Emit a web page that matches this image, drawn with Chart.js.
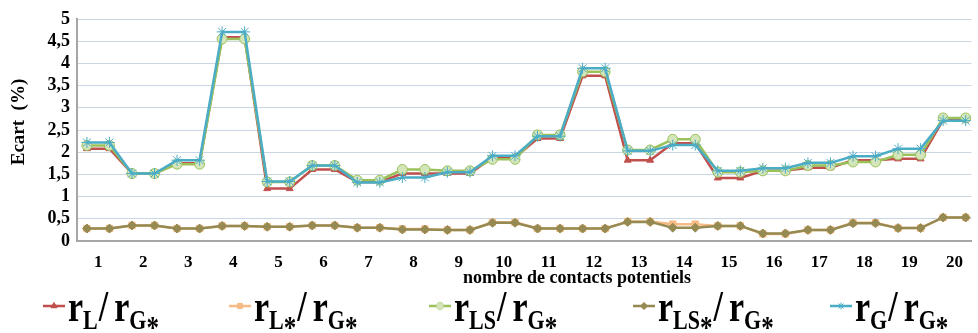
<!doctype html>
<html>
<head>
<meta charset="utf-8">
<style>
  body { margin:0; background:#fff; }
  canvas { display:block; }
</style>
</head>
<body>
<canvas id="c" width="978" height="333"></canvas>
<script src="https://cdn.jsdelivr.net/npm/chart.js"></script>
<script>
// categories (number of potential contacts); each one has two points
const CATS = [1,2,3,4,5,6,7,8,9,10,11,12,13,14,15,16,17,18,19,20];
const Y_TICKS = [0,0.5,1,1.5,2,2.5,3,3.5,4,4.5,5];

const R_L = [2.08,2.08, 1.52,1.52, 1.75,1.75, 4.59,4.59, 1.18,1.18, 1.61,1.61, 1.33,1.33, 1.52,1.52, 1.52,1.52, 1.88,1.88,
             2.31,2.31, 3.72,3.72, 1.82,1.82, 2.20,2.20, 1.42,1.42, 1.58,1.58, 1.65,1.65, 1.82,1.82, 1.85,1.85, 2.73,2.73];
const R_LSTAR = [0.28,0.28, 0.35,0.35, 0.28,0.28, 0.34,0.34, 0.32,0.32, 0.35,0.35, 0.30,0.30, 0.27,0.27, 0.25,0.25, 0.42,0.42,
                 0.28,0.28, 0.28,0.28, 0.44,0.44, 0.38,0.38, 0.34,0.34, 0.16,0.16, 0.25,0.25, 0.41,0.41, 0.29,0.29, 0.53,0.53];
const R_LS = [2.15,2.15, 1.52,1.52, 1.73,1.73, 4.55,4.55, 1.33,1.33, 1.70,1.70, 1.37,1.37, 1.61,1.61, 1.58,1.58, 1.84,1.84,
              2.39,2.39, 3.81,3.81, 2.05,2.05, 2.29,2.29, 1.55,1.55, 1.58,1.58, 1.70,1.70, 1.78,1.78, 1.94,1.94, 2.77,2.77];
const R_LSSTAR = [0.28,0.28, 0.35,0.35, 0.28,0.28, 0.34,0.34, 0.32,0.32, 0.35,0.35, 0.30,0.30, 0.26,0.26, 0.25,0.25, 0.41,0.41,
                  0.28,0.28, 0.28,0.28, 0.43,0.43, 0.30,0.30, 0.34,0.34, 0.17,0.17, 0.25,0.25, 0.40,0.40, 0.29,0.29, 0.53,0.53];
const R_G = [2.22,2.22, 1.52,1.52, 1.82,1.82, 4.71,4.71, 1.34,1.34, 1.70,1.70, 1.32,1.32, 1.43,1.43, 1.55,1.55, 1.92,1.92,
             2.36,2.36, 3.89,3.89, 2.03,2.03, 2.16,2.16, 1.58,1.58, 1.64,1.64, 1.76,1.76, 1.91,1.91, 2.08,2.08, 2.71,2.71];

const SERIF = "'Liberation Serif', 'Times New Roman', serif";

// two points per category: slightly left and right of the category tick
function pts(values) {
  return values.map((v, i) => ({ x: CATS[Math.floor(i / 2)] + (i % 2 ? 0.25 : -0.25), y: v }));
}

const SERIES = [
  { key: ["L", "G"],   star: [false, true], data: R_L,      color: "#C0504D", fill: "#C0504D", style: "triangle", r: 4,   order: 3 },
  { key: ["L", "G"],   star: [true, true],  data: R_LSTAR,  color: "#F6BA84", fill: "#F6BA84", style: "rect",     r: 4.5, order: 4 },
  { key: ["LS", "G"],  star: [false, true], data: R_LS,     color: "#9BC25A", fill: "#D5E5BA", style: "circle",   r: 5,   order: 2 },
  { key: ["LS", "G"],  star: [true, true],  data: R_LSSTAR, color: "#958A52", fill: "#958A52", style: "rectRot",  r: 4.5, order: 1 },
  { key: ["G", "G"],   star: [false, true], data: R_G,      color: "#4BACC6", fill: "#4BACC6", style: "star",     r: 5.5, order: 0 },
];

const titlesAndLegend = {
  id: "titlesAndLegend",
  afterDraw(chart) {
    const ctx = chart.ctx;
    ctx.save();
    ctx.fillStyle = "#000";
    // x title
    ctx.font = "bold 18px " + SERIF;
    ctx.textAlign = "center";
    ctx.textBaseline = "alphabetic";
    ctx.fillText("nombre de contacts potentiels", 577, 283);
    // y title
    ctx.translate(24, 122);
    ctx.rotate(-Math.PI / 2);
    ctx.font = "bold 19px " + SERIF;
    ctx.fillText("Ecart  (%)", 0, 0);
    ctx.restore();

    // legend
    const starts = [43, 229, 429, 633, 830];
    const big = "bold 34px " + SERIF, small = "bold 22px " + SERIF, ast = "bold 25px " + SERIF;
    SERIES.forEach((s, i) => {
      const x0 = starts[i], ym = 306;
      ctx.save();
      ctx.strokeStyle = s.color;
      ctx.lineWidth = 2.5;
      ctx.beginPath(); ctx.moveTo(x0, ym); ctx.lineTo(x0 + 22, ym); ctx.stroke();
      ctx.fillStyle = s.fill;
      ctx.lineWidth = 1;
      Chart.helpers.drawPoint(ctx, { pointStyle: s.style, radius: 3.5, rotation: 0, borderWidth: 1 }, x0 + 11, ym);
      if (s.style !== "star") ctx.fill();

      // text: r_sub / r_sub, stretched vertically like the reference
      ctx.fillStyle = "#000";
      ctx.textAlign = "left";
      ctx.textBaseline = "alphabetic";
      ctx.translate(0, 321);
      ctx.scale(1, 1.28);
      let x = x0 + 25;
      const put = (t, f, dy) => { ctx.font = f; ctx.fillText(t, x, dy); x += ctx.measureText(t).width; };
      put("r", big, 0);
      put(s.key[0], small, 6);
      if (s.star[0]) { put("*", ast, 13); }
      x += 1;
      put("/", big, 0);
      x += 6;
      put("r", big, 0);
      put(s.key[1], small, 6);
      if (s.star[1]) { put("*", ast, 13); }
      ctx.restore();
    });
  }
};

new Chart(document.getElementById("c"), {
  type: "line",
  data: {
    datasets: SERIES.map(s => ({
      label: "r" + s.key[0] + "/r" + s.key[1],
      data: pts(s.data),
      borderColor: s.color,
      backgroundColor: s.fill,
      borderWidth: 2.5,
      pointStyle: s.style,
      pointRadius: s.r,
      pointBorderColor: s.color,
      pointBackgroundColor: s.fill,
      pointBorderWidth: 1,
      tension: 0,
      order: s.order,
    }))
  },
  options: {
    responsive: false,
    animation: false,
    devicePixelRatio: 1,
    layout: { padding: { top: 19, right: 0, left: 0, bottom: 0 } },
    plugins: { legend: { display: false }, tooltip: { enabled: false } },
    scales: {
      x: {
        type: "linear",
        min: 0.53,
        max: 20.38,
        afterBuildTicks: (scale) => { scale.ticks = CATS.map(v => ({ value: v })); },
        afterFit: (scale) => { scale.height = 92; },
        grid: { display: false },
        border: { display: true, color: "#A6A6A6", width: 2 },
        ticks: { color: "#000", font: { family: SERIF, size: 17, weight: "bold" }, padding: 3, maxRotation: 0, autoSkip: false },
      },
      y: {
        min: 0,
        max: 5,
        afterBuildTicks: (scale) => { scale.ticks = Y_TICKS.map(v => ({ value: v })); },
        afterFit: (scale) => { scale.width = 77; },
        grid: { color: "#C9D6E4", lineWidth: 1, drawTicks: false },
        border: { display: true, color: "#A6A6A6", width: 2 },
        ticks: {
          color: "#000",
          padding: 7,
          autoSkip: false,
          font: { family: SERIF, size: 18, weight: "bold" },
          callback: (v) => String(v).replace(".", ","),
        },
      },
    },
  },
  plugins: [titlesAndLegend],
});
</script>
</body>
</html>
